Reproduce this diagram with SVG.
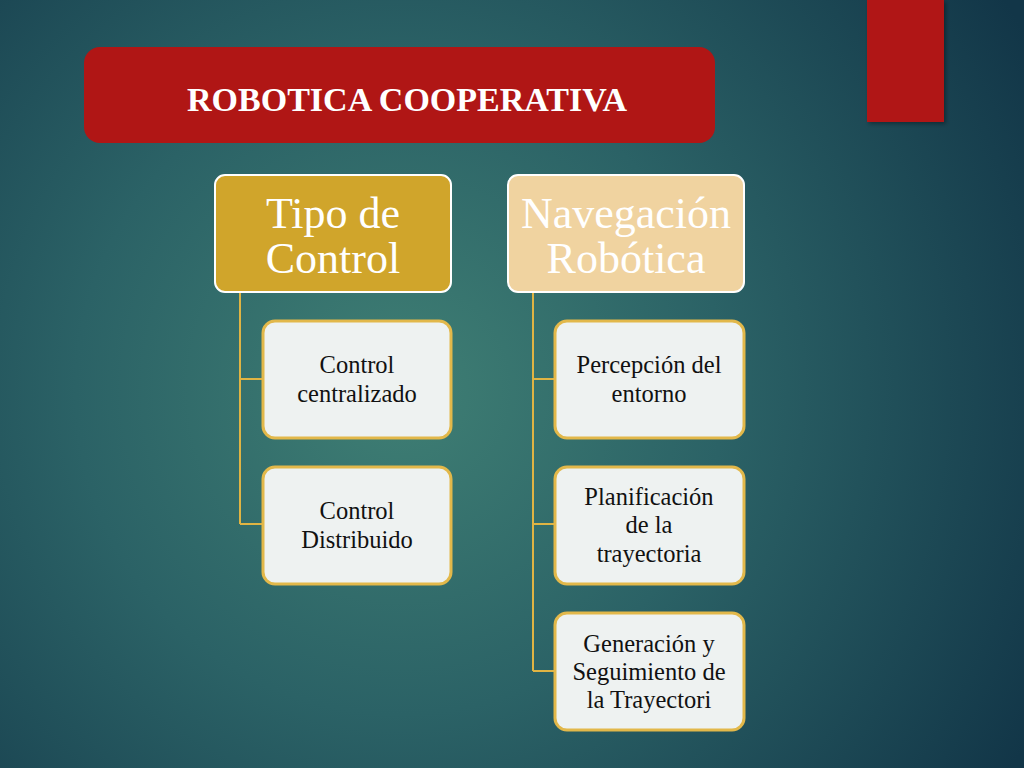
<svg xmlns="http://www.w3.org/2000/svg" width="1024" height="768" viewBox="0 0 1024 768">
<defs>
<radialGradient id="bg" cx="400" cy="390" r="720" gradientUnits="userSpaceOnUse">
<stop offset="0" stop-color="#3f7f74"/>
<stop offset="0.45" stop-color="#2b6266"/>
<stop offset="1" stop-color="#123648"/>
</radialGradient>
<filter id="sh" x="-10%" y="-10%" width="130%" height="130%">
<feDropShadow dx="2" dy="2" stdDeviation="2" flood-color="#000" flood-opacity="0.35"/>
</filter>
</defs>
<style>
.hdr{stroke:#ffffff;stroke-width:2}
.child{fill:#eef2f1;stroke:#e2b84a;stroke-width:3}
.ht{font-family:"Liberation Serif",serif;font-size:44px;fill:#ffffff;text-anchor:middle}
.ct{font-family:"Liberation Serif",serif;font-size:24.5px;fill:#111111;text-anchor:middle}
.conn{fill:none;stroke:#e0b443;stroke-width:2}
</style>
<rect width="1024" height="768" fill="url(#bg)"/>
<g id="accent"><rect x="867" y="0" width="77" height="122" fill="#b01815" filter="url(#sh)"/></g>
<g id="title">
<rect x="84" y="47" width="631" height="96" rx="16" fill="#b01615"/>
<text x="407" y="111" font-family="Liberation Serif,serif" font-weight="bold" font-size="34" fill="#ffffff" text-anchor="middle">ROBOTICA COOPERATIVA</text>
</g>
<g id="connectors">
<path class="conn" d="M240 292 V524 M240 379 H263 M240 524 H263"/>
<path class="conn" d="M533 292 V671 M533 379 H555 M533 524 H555 M533 671 H555"/>
</g>
<g id="tipo">
<rect class="hdr" x="215" y="175" width="236" height="117" rx="10" fill="#d0a52b"/>
<text class="ht" x="333" y="228">Tipo de</text>
<text class="ht" x="333" y="273">Control</text>
</g>
<g id="navegacion">
<rect class="hdr" x="508" y="175" width="236" height="117" rx="10" fill="#f0d3a0"/>
<text class="ht" x="626" y="228">Navegación</text>
<text class="ht" x="626" y="273">Robótica</text>
</g>
<g id="c1">
<rect class="child" x="263" y="321" width="188" height="117" rx="12"/>
<text class="ct" x="357" y="373">Control</text>
<text class="ct" x="357" y="402">centralizado</text>
</g>
<g id="c2">
<rect class="child" x="263" y="467" width="188" height="117" rx="12"/>
<text class="ct" x="357" y="519">Control</text>
<text class="ct" x="357" y="548">Distribuido</text>
</g>
<g id="n1">
<rect class="child" x="555" y="321" width="189" height="117" rx="12"/>
<text class="ct" x="649" y="373">Percepción del</text>
<text class="ct" x="649" y="402">entorno</text>
</g>
<g id="n2">
<rect class="child" x="555" y="467" width="189" height="117" rx="12"/>
<text class="ct" x="649" y="505">Planificación</text>
<text class="ct" x="649" y="533">de la</text>
<text class="ct" x="649" y="562">trayectoria</text>
</g>
<g id="n3">
<rect class="child" x="555" y="613" width="189" height="117" rx="12"/>
<text class="ct" x="649" y="652">Generación y</text>
<text class="ct" x="649" y="680">Seguimiento de</text>
<text class="ct" x="649" y="708">la Trayectori</text>
</g>
</svg>
